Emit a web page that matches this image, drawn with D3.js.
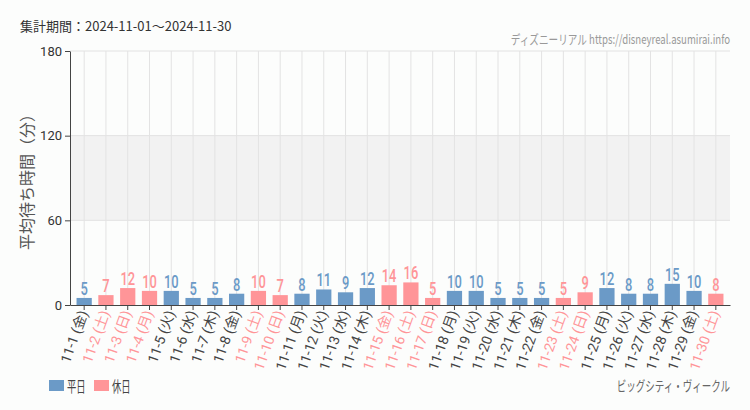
<!DOCTYPE html>
<html>
<head>
<meta charset="utf-8">
<script src="https://cdn.jsdelivr.net/npm/d3@7"></script>
<style>
  body { margin: 0; background: #fcfdfc; }
  svg { display: block; font-family: "Noto Sans CJK JP", "DejaVu Sans", sans-serif; }
</style>
</head>
<body>
<div id="chart"></div>
<script>
const days = ["11-1","11-2","11-3","11-4","11-5","11-6","11-7","11-8","11-9","11-10",
  "11-11","11-12","11-13","11-14","11-15","11-16","11-17","11-18","11-19","11-20",
  "11-21","11-22","11-23","11-24","11-25","11-26","11-27","11-28","11-29","11-30"];
const weekdays = ["金","土","日","月","火","水","木","金","土","日",
  "月","火","水","木","金","土","日","月","火","水",
  "木","金","土","日","月","火","水","木","金","土"];
const holiday = [0,1,1,1,0,0,0,0,1,1,0,0,0,0,1,1,1,0,0,0,0,0,1,1,0,0,0,0,0,1];
const waits = [5,7,12,10,10,5,5,8,10,7,8,11,9,12,14,16,5,10,10,5,5,5,5,9,12,8,8,15,10,8];
const yTicks = [0, 60, 120, 180];

const blue = "#6b9ac7", pink = "#ff9598";
const W = 750, H = 410;
const m = {left: 70, right: 20, top: 51, bottom: 105};

const svg = d3.select("#chart").append("svg")
    .attr("width", W).attr("height", H);

let x = d3.scaleBand().domain(days).range([m.left, W - m.right]).padding(0.3);
let y = d3.scaleLinear().domain([0, 180]).range([H - m.bottom, m.top]);

// grey band 60-120
svg.append("rect")
    .attr("x", m.left).attr("width", W - m.right - m.left)
    .attr("y", y(120)).attr("height", y(60) - y(120))
    .attr("fill", "#f2f2f2");

// horizontal grid lines
svg.selectAll("line.hg").data(yTicks.slice(1)).enter().append("line")
    .attr("x1", m.left).attr("x2", W - m.right)
    .attr("y1", d => y(d)).attr("y2", d => y(d))
    .attr("stroke", "#e2e2e2");

// vertical grid lines
svg.selectAll("line.vg").data(days).enter().append("line")
    .attr("x1", d => x(d) + x.bandwidth() / 2).attr("x2", d => x(d) + x.bandwidth() / 2)
    .attr("y1", y(180)).attr("y2", y(0))
    .attr("stroke", "#e3e3e3");

// bars
svg.selectAll("rect.bar").data(waits).enter().append("rect")
    .attr("x", (d, i) => x(days[i]))
    .attr("width", x.bandwidth())
    .attr("y", d => y(d))
    .attr("height", d => y(0) - y(d))
    .attr("fill", (d, i) => holiday[i] ? pink : blue);

// value labels (narrowed)
svg.selectAll("text.val").data(waits).enter().append("text")
    .attr("transform", (d, i) => `translate(${x(days[i]) + x.bandwidth() / 2},${y(d) - 3}) scale(0.68,1)`)
    .attr("text-anchor", "middle")
    .attr("font-family", "Roboto, sans-serif")
    .attr("font-weight", 500)
    .attr("font-size", 19)
    .attr("fill", (d, i) => holiday[i] ? pink : blue)
    .text(d => d);

// y axis
let yAxis = svg.append("g")
    .attr("transform", `translate(${m.left},0)`)
    .call(d3.axisLeft(y).tickValues(yTicks).tickSize(5).tickSizeOuter(0));
yAxis.select(".domain").attr("stroke", "#444");
yAxis.selectAll(".tick line").attr("stroke", "#444");
yAxis.selectAll("text").attr("font-size", 13).attr("fill", "#333")
    .attr("font-family", "Roboto, sans-serif");

// x axis
let xAxis = svg.append("g")
    .attr("transform", `translate(0,${y(0)})`)
    .call(d3.axisBottom(x).tickSize(5).tickSizeOuter(0).tickFormat((d, i) => `${d} (${weekdays[i]})`));
xAxis.select(".domain").attr("stroke", "#444");
xAxis.selectAll(".tick line").attr("stroke", "#444");
xAxis.selectAll("text")
    .attr("font-family", "Roboto, 'Noto Sans CJK JP', sans-serif")
    .attr("font-size", 14)
    .attr("fill", (d, i) => holiday[i] ? pink : "#444")
    .attr("text-anchor", "end")
    .attr("dy", "0.35em")
    .attr("transform", "translate(0,4) rotate(-70)")
    .attr("x", -2).attr("y", 0);

// y title
svg.append("text")
    .attr("transform", `translate(33,${(y(0) + y(180)) / 2}) rotate(-90)`)
    .attr("text-anchor", "middle")
    .attr("font-size", 16)
    .attr("fill", "#555")
    .text("平均待ち時間（分）");

// header texts
svg.append("text")
    .attr("x", 20).attr("y", 31)
    .attr("font-size", 13).attr("fill", "#333")
    .text("集計期間：2024-11-01～2024-11-30");

svg.append("text")
    .attr("transform", `translate(${W - 20},44) scale(0.74,1)`)
    .attr("text-anchor", "end")
    .attr("font-size", 13).attr("fill", "#999")
    .text("ディズニーリアル https://disneyreal.asumirai.info");

svg.append("text")
    .attr("transform", `translate(${W - 20},391) scale(0.68,1)`)
    .attr("text-anchor", "end")
    .attr("font-size", 14).attr("fill", "#666")
    .text("ビッグシティ・ヴィークル");

// legend
const legend = [["平日", blue], ["休日", pink]];
let lg = svg.selectAll("g.lg").data(legend).enter().append("g")
    .attr("transform", (d, i) => `translate(${49 + i * 45},380)`);
lg.append("rect").attr("width", 15).attr("height", 11).attr("fill", d => d[1]);
lg.append("text")
    .attr("transform", "translate(18,11.5) scale(0.62,1)")
    .attr("font-size", 15).attr("fill", "#444")
    .text(d => d[0]);
</script>
</body>
</html>
